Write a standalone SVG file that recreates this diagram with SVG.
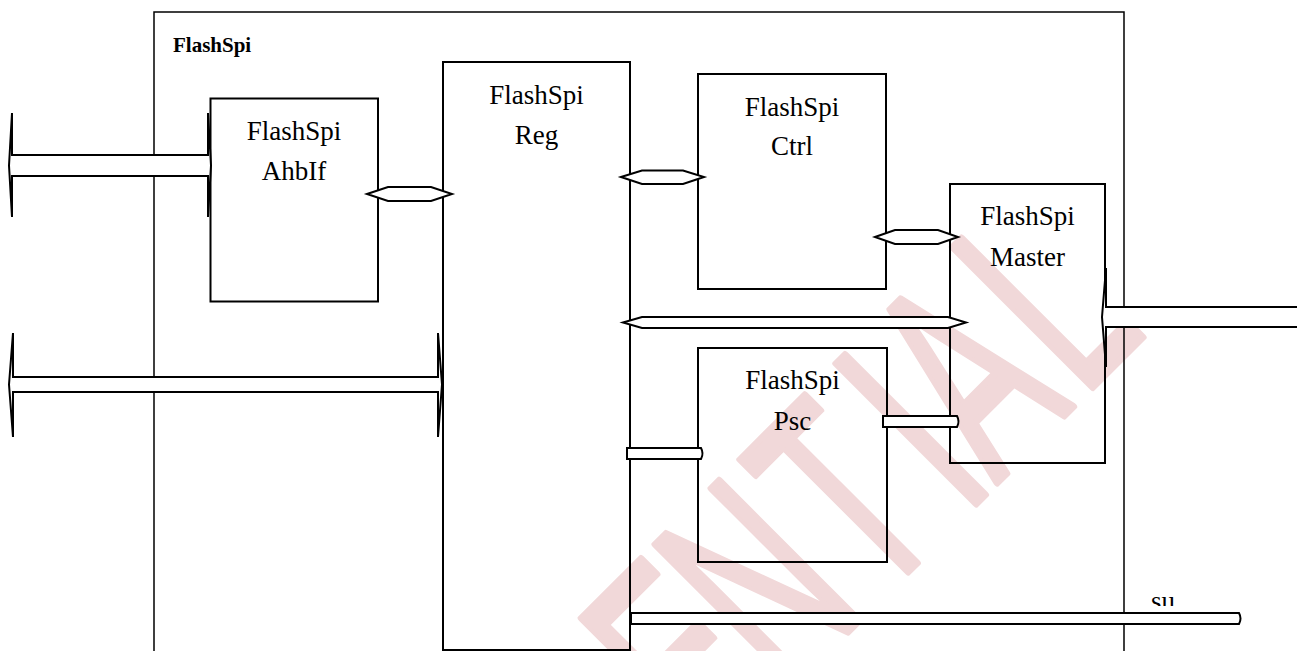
<svg xmlns="http://www.w3.org/2000/svg" width="1297" height="651" viewBox="0 0 1297 651">
<style>
.box{fill:none;stroke:#000;stroke-width:2}
.lbl{font-family:"Liberation Serif","Times New Roman",serif;font-size:27px;fill:#000;text-anchor:middle}
.title{font-family:"Liberation Serif","Times New Roman",serif;font-size:21px;font-weight:bold;fill:#000}
.bus{fill:#fff;stroke:#000;stroke-width:2;stroke-linejoin:miter}
.wm{font-family:"Liberation Sans",Arial,sans-serif;font-size:288px;fill:#f1d8d9;stroke:#f1d8d9;stroke-width:7;stroke-linejoin:round;stroke-linecap:round}
</style>
<defs>
<clipPath id="clipSu"><rect x="1140" y="590" width="60" height="16"/></clipPath>
</defs>
<rect width="1297" height="651" fill="#fff"/>
<g id="watermark">
<text class="wm" transform="translate(740 740) rotate(-45) scale(0.58 1)" x="-1264 -1041 -803 -581 -390 -293 -71 109 333 547 624 834" y="0">CONFIDENTIAL</text>
</g>
<g id="FlashSpi">
<path class="box" d="M154,660 V12 H1124 V660" style="stroke-width:1.5"/>
<text class="title" x="173" y="52">FlashSpi</text>
</g>
<g id="FlashSpiAhbIf">
<rect class="box" x="210.5" y="98.5" width="167.5" height="203"/>
<text class="lbl" x="294" y="140">FlashSpi</text>
<text class="lbl" x="294" y="180">AhbIf</text>
</g>
<g id="FlashSpiReg">
<rect class="box" x="443" y="62" width="187" height="588"/>
<text class="lbl" x="536.5" y="104">FlashSpi</text>
<text class="lbl" x="536.5" y="144">Reg</text>
</g>
<g id="FlashSpiCtrl">
<rect class="box" x="698" y="74" width="188" height="215"/>
<text class="lbl" x="792" y="116">FlashSpi</text>
<text class="lbl" x="792" y="155">Ctrl</text>
</g>
<g id="FlashSpiMaster">
<rect class="box" x="950" y="184" width="155" height="279"/>
<text class="lbl" x="1027.5" y="225">FlashSpi</text>
<text class="lbl" x="1027.5" y="266">Master</text>
</g>
<g id="FlashSpiPsc">
<rect class="box" x="698" y="348" width="189" height="214"/>
<text class="lbl" x="792.5" y="389">FlashSpi</text>
<text class="lbl" x="792.5" y="430">Psc</text>
</g>
<g id="connectors">
<polygon class="bus" points="9,165.5 12,113 12,155 208,155 208,113 211,165.5 208,217 208,176 12,176 12,217"/>
<polygon class="bus" points="9,384.5 13,333 13,377 438,377 438,333 442,384.5 438,437 438,392 13,392 13,437"/>
<polygon class="bus" points="1102,317 1106,268 1106,307 1300,307 1300,327 1106,327 1106,367"/>
<polygon class="bus" points="367,194 388,187 431,187 452,194 431,201 388,201"/>
<polygon class="bus" points="621,177 642,170.5 683,170.5 704,177 683,184 642,184"/>
<polygon class="bus" points="875,237 895,230 938,230 958,237 938,244 895,244"/>
<polygon class="bus" points="623,322.5 642,317 948,317 966,322.5 948,328 642,328"/>
<path class="bus" d="M883,416 H957 Q960,421.5 957,427 H883 Z"/>
<path class="bus" d="M627,448 H701 Q704,453.5 701,459 H627 Z"/>
<path class="bus" d="M631,613 H1239 Q1242,618.5 1239,624 H631 Z"/>
<text clip-path="url(#clipSu)" class="lbl" style="text-anchor:start" x="1151" y="609.5">su</text>
</g>
</svg>
